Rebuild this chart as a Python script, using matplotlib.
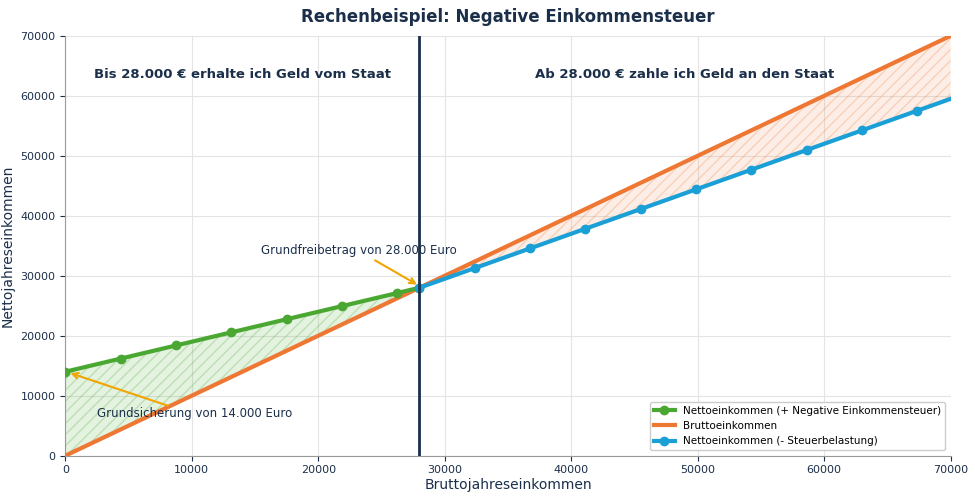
import matplotlib.pyplot as plt
import numpy as np

# data
green_x = [0, 4375, 8750, 13125, 17500, 21875, 26250, 28000]
green_y = [14000, 16188, 18375, 20563, 22750, 24938, 27125, 28000]
blue_x = [28000, 32375, 36750, 41125, 45500, 49875, 54250, 58625, 63000, 67375, 70000]
blue_y = [28000, 31281, 34563, 37844, 41125, 44406, 47688, 50969, 54250, 57531, 59500]
brutto_x = [0, 70000]
brutto_y = [0, 70000]

navy = '#1b2f4a'
green = '#4aa832'
orange = '#ee7733'
blue = '#1a9fd6'

fig, ax = plt.subplots(figsize=(9.75, 4.98), dpi=100)

gx = np.array(green_x); gy = np.array(green_y)
ax.fill_between(gx, gx, gy, facecolor=green, alpha=0.15, edgecolor='none')
ax.fill_between(gx, gx, gy, facecolor='none', edgecolor=green, alpha=0.25, hatch='///', linewidth=0)
bx = np.array(blue_x); by = np.array(blue_y)
ax.fill_between(bx, bx, by, facecolor=orange, alpha=0.12, edgecolor='none')
ax.fill_between(bx, bx, by, facecolor='none', edgecolor=orange, alpha=0.25, hatch='///', linewidth=0)

ax.plot(green_x, green_y, color=green, lw=3, marker='o', markersize=6,
        label='Nettoeinkommen (+ Negative Einkommensteuer)', zorder=4)
ax.plot(brutto_x, brutto_y, color=orange, lw=3, label='Bruttoeinkommen', zorder=3)
ax.plot(blue_x, blue_y, color=blue, lw=3, marker='o', markersize=6,
        markevery=list(range(10)), label='Nettoeinkommen (- Steuerbelastung)', zorder=4)
ax.axvline(28000, color=navy, lw=2, zorder=5)

ax.text(14000, 63500, 'Bis 28.000 € erhalte ich Geld vom Staat', ha='center', va='center',
        fontsize=9.5, fontweight='bold', color=navy)
ax.text(49000, 63500, 'Ab 28.000 € zahle ich Geld an den Staat', ha='center', va='center',
        fontsize=9.5, fontweight='bold', color=navy)
ax.annotate('', xy=(28000, 28300), xytext=(24300, 32800),
            arrowprops=dict(arrowstyle='->', color='#f0a500', lw=1.5))
ax.text(15500, 34200, 'Grundfreibetrag von 28.000 Euro', fontsize=8.5, color=navy, va='center')
ax.annotate('', xy=(200, 13900), xytext=(8300, 8200),
            arrowprops=dict(arrowstyle='->', color='#f0a500', lw=1.5))
ax.text(2500, 7000, 'Grundsicherung von 14.000 Euro', fontsize=8.5, color=navy, va='center')

ax.set_xlim(0, 70000)
ax.set_ylim(0, 70000)
ax.set_xticks(range(0, 70001, 10000))
ax.set_yticks(range(0, 70001, 10000))
ax.tick_params(labelsize=8, colors=navy)
ax.grid(True, color='#e4e4e4', lw=0.8)
ax.set_axisbelow(True)
for s in ['top', 'right']:
    ax.spines[s].set_visible(False)
for s in ['left', 'bottom']:
    ax.spines[s].set_color('#999999')
ax.set_xlabel('Bruttojahreseinkommen', fontsize=10, color=navy, labelpad=2)
ax.set_ylabel('Nettojahreseinkommen', fontsize=10, color=navy)
ax.set_title('Rechenbeispiel: Negative Einkommensteuer', fontsize=12, fontweight='bold',
             color=navy, pad=10)
ax.legend(loc='lower right', fontsize=7.5, framealpha=1)

plt.subplots_adjust(left=0.067, right=0.975, top=0.928, bottom=0.085)
plt.savefig('out.png')
